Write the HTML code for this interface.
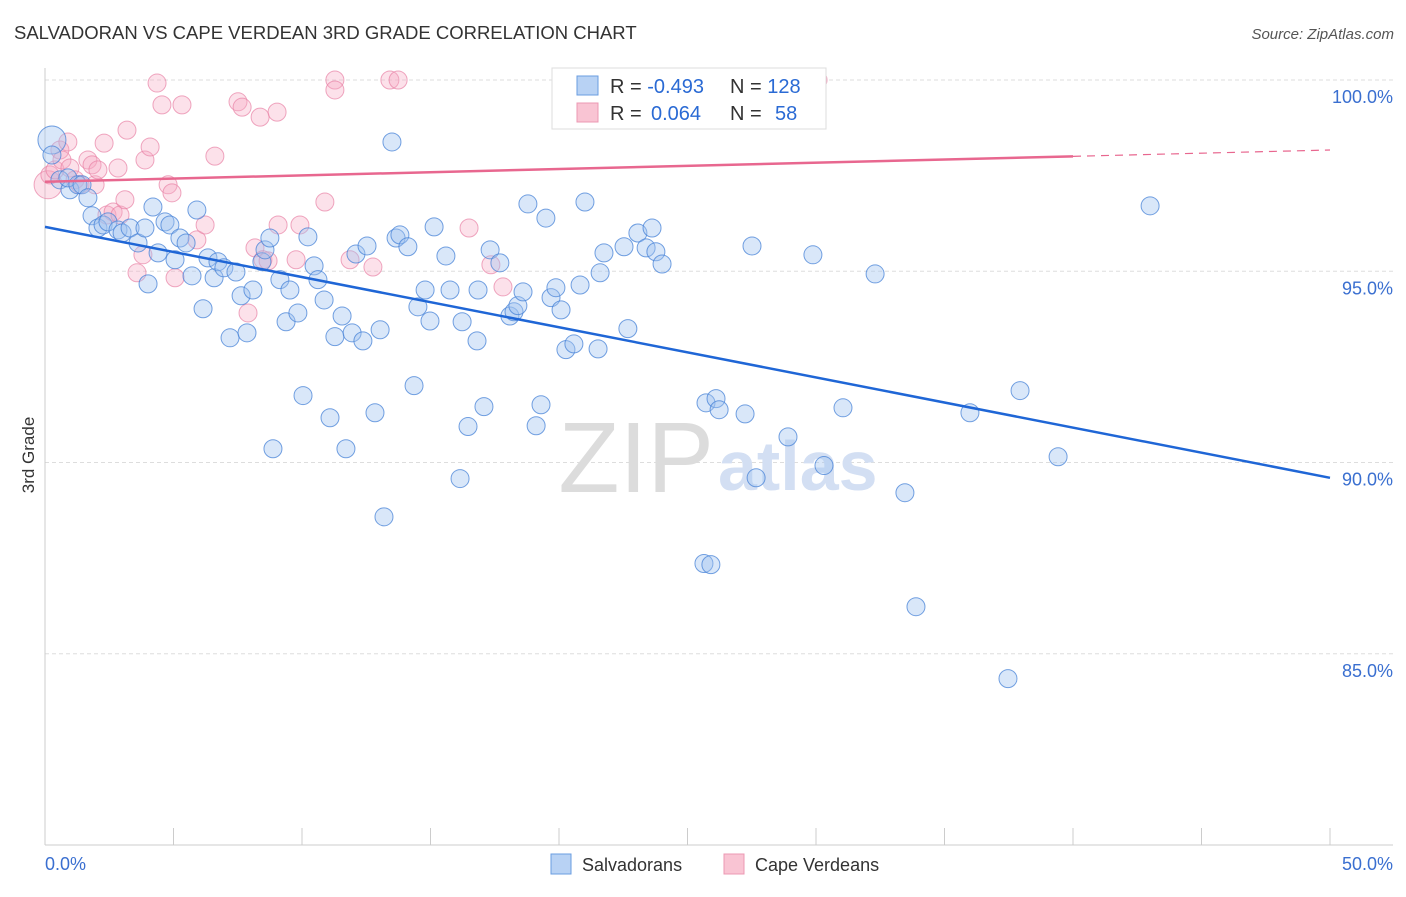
<!DOCTYPE html>
<html><head><meta charset="utf-8"><style>
body{margin:0;background:#fff;font-family:"Liberation Sans",sans-serif;}
svg text{font-family:"Liberation Sans",sans-serif;}
</style></head><body>
<svg id="chart" width="1406" height="892" xmlns="http://www.w3.org/2000/svg">
<text x="14" y="39" font-size="18.5" fill="#333">SALVADORAN VS CAPE VERDEAN 3RD GRADE CORRELATION CHART</text>
<text x="1394" y="39" font-size="15" fill="#555" font-style="italic" text-anchor="end">Source: ZipAtlas.com</text>
<g id="grid"></g>
<text x="714" y="492" font-size="100" fill="#dcdcdc" text-anchor="end" font-family="Liberation Serif">ZIP</text>
<text x="718" y="490" font-size="70" fill="#d3dff3" font-weight="bold">atlas</text>
<g id="marks"></g>
<text transform="translate(34,455) rotate(-90)" font-size="17" fill="#333" text-anchor="middle">3rd Grade</text>
<g>
<rect x="552" y="68" width="274" height="61" fill="#fff" stroke="#ddd"/>
<rect x="577" y="76" width="21" height="19" fill="#b8d2f4" stroke="#6a9de0"/>
<rect x="577" y="103" width="21" height="19" fill="#f9c4d3" stroke="#ec98b3"/>
<text x="610" y="93" font-size="20" fill="#333">R = <tspan fill="#2a6ad4">-0.493</tspan><tspan x="730">N = </tspan><tspan fill="#2a6ad4">128</tspan></text>
<text x="610" y="120" font-size="20" fill="#333">R = <tspan x="651" fill="#2a6ad4">0.064</tspan><tspan x="730">N = </tspan><tspan x="775" fill="#2a6ad4">58</tspan></text>
</g>
<g>
<rect x="551" y="854" width="20" height="20" fill="#b8d2f4" stroke="#6a9de0"/>
<text x="582" y="871" font-size="18" fill="#333">Salvadorans</text>
<rect x="724" y="854" width="20" height="20" fill="#f9c4d3" stroke="#ec98b3"/>
<text x="755" y="871" font-size="18" fill="#333">Cape Verdeans</text>
</g>
</svg>
<script>
const blueX=[.27,.27,.58,.97,.89,1.28,1.44,1.67,1.83,2.06,2.26,2.45,2.84,3.00,3.31,3.62,3.89,4.01,4.20,4.40,4.67,4.86,5.06,5.25,5.49,5.72,5.91,6.15,6.34,6.58,6.73,6.96,7.20,7.43,7.63,7.86,8.09,8.44,8.56,8.75,8.87,9.14,9.38,9.53,9.84,10.04,10.23,10.47,10.62,10.86,11.09,11.28,11.56,11.71,11.95,12.10,12.37,12.53,12.84,13.04,13.19,13.50,13.66,13.81,14.12,14.36,14.51,14.79,14.98,15.14,15.60,15.76,16.23,16.15,16.46,16.81,16.85,17.08,17.32,17.70,18.09,18.25,18.40,18.60,18.79,19.11,19.30,19.49,19.69,19.88,20.08,20.27,20.58,20.82,21.01,21.52,21.60,21.75,22.53,22.68,23.07,23.39,23.62,23.77,24.01,25.64,25.72,25.91,26.11,26.23,27.24,27.51,27.67,28.91,29.88,30.31,31.05,32.30,33.46,33.89,35.99,37.47,37.94,39.42,43.00,24.90];
const blueY=[98.43,98.04,97.39,97.13,97.44,97.26,97.26,96.92,96.45,96.13,96.21,96.29,96.08,96.00,96.13,95.74,96.13,94.67,96.68,95.48,96.29,96.21,95.30,95.87,95.74,94.88,96.60,94.02,95.35,94.83,95.25,95.09,93.26,94.98,94.36,93.39,94.51,95.25,95.56,95.87,90.36,94.78,93.68,94.51,93.91,91.75,95.90,95.14,94.78,94.25,91.17,93.29,93.83,90.36,93.39,95.45,93.18,95.66,91.30,93.47,88.58,98.38,95.87,95.95,95.64,92.01,94.07,94.51,93.70,96.16,95.40,94.51,93.68,89.58,90.94,93.18,94.51,91.46,95.56,95.22,93.83,93.94,94.10,94.46,96.76,90.96,91.51,96.39,94.31,94.57,93.99,92.95,93.10,94.64,96.81,92.97,94.96,95.48,95.64,93.50,96.00,95.61,96.13,95.51,95.19,87.36,91.56,87.33,91.67,91.38,91.27,95.66,89.60,90.67,95.43,89.92,91.43,94.93,89.21,86.23,91.30,84.35,91.88,90.15,96.71,100.0];
const pinkX=[.12,.19,.39,.58,.66,.89,.97,1.17,1.36,1.67,1.83,1.95,2.06,2.30,2.41,2.65,2.84,2.92,3.11,3.19,3.58,3.81,3.89,4.09,4.36,4.55,4.79,4.94,5.06,5.33,5.91,6.23,6.61,7.51,7.67,7.90,8.17,8.37,8.48,8.68,9.03,9.07,9.77,9.92,10.89,11.28,11.28,11.87,12.76,13.42,13.74,16.50,17.35,17.82,21.79,30.08];
const pinkY=[97.26,97.52,97.65,98.17,97.91,98.38,97.70,97.39,97.26,97.91,97.78,97.26,97.65,98.35,96.47,96.55,97.70,96.47,96.87,98.69,94.96,95.43,97.91,98.25,99.92,99.35,97.26,97.05,94.83,99.35,95.82,96.21,98.01,99.43,99.29,93.91,95.61,99.03,95.30,95.27,99.16,96.21,95.30,96.21,96.81,100,99.74,95.30,95.11,100,100,96.13,95.17,94.59,100,100];
const blueTrend=[96.16,89.60];
const pinkTrend=[97.34,98.17];
const yTicks=[100,95,90,85];
const yTickLabels=["100.0%","95.0%","90.0%","85.0%"];
const xTicks=[0,5,10,15,20,25,30,35,40,45,50];
const xTickLabels=["0.0%","50.0%"];

const NS="http://www.w3.org/2000/svg";
const X0=45,X1=1330,YT=80,YB=845;
const xs=v=>X0+(v/50)*(X1-X0);
const ys=v=>YT+(100-v)/20*(YB-YT);
function mk(tag,attrs,parent){const e=document.createElementNS(NS,tag);for(const k in attrs)e.setAttribute(k,attrs[k]);parent.appendChild(e);return e;}
const grid=document.getElementById('grid'),marks=document.getElementById('marks');
yTicks.forEach((t,i)=>{
  const l=mk('line',{x1:X0,x2:1393,y1:ys(t),y2:ys(t),stroke:'#ddd','stroke-dasharray':'4,3'},grid);
  
  
  const tx=mk('text',{x:1393,y:ys(t)+23,'font-size':18,fill:'#3a6fd0','text-anchor':'end'},grid);
  tx.textContent=yTickLabels[i];
  
  
});
const ax=mk('line',{x1:X0,x2:X0,y1:68,y2:YB,stroke:'#ccc'},grid);


const bx=mk('line',{x1:X0,x2:1393,y1:YB,y2:YB,stroke:'#ccc'},grid);


xTicks.forEach(t=>{
  const l=mk('line',{x1:xs(t),x2:xs(t),y1:828,y2:YB,stroke:'#ccc'},grid);
  
  
});
const xl0=mk('text',{x:45,y:870,'font-size':18,fill:'#3a6fd0'},grid);xl0.textContent=xTickLabels[0];


const xl1=mk('text',{x:1393,y:870,'font-size':18,fill:'#3a6fd0','text-anchor':'end'},grid);xl1.textContent=xTickLabels[1];



pinkX.forEach((v,i)=>{
  const c=mk('circle',{cx:xs(v),cy:ys(pinkY[i]),r:i===0?14:9,fill:'rgba(246,170,195,0.35)',stroke:'rgba(232,130,165,0.7)','stroke-width':1},marks);
  
  
});
blueX.forEach((v,i)=>{
  const c=mk('circle',{cx:xs(v),cy:ys(blueY[i]),r:i===0?14:9,fill:'rgba(160,195,240,0.4)',stroke:'rgba(70,130,215,0.75)','stroke-width':1},marks);
  
  
});
const bt=mk('line',{x1:xs(0),y1:ys(blueTrend[0]),x2:xs(50),y2:ys(blueTrend[1]),stroke:'#1f66d6','stroke-width':2.5},marks);


const pm=pinkTrend[0]+(pinkTrend[1]-pinkTrend[0])*0.8;
const pt=mk('line',{x1:xs(0),y1:ys(pinkTrend[0]),x2:xs(40),y2:ys(pm),stroke:'#e8678f','stroke-width':2.5},marks);


const pd=mk('line',{x1:xs(40),y1:ys(pm),x2:xs(50),y2:ys(pinkTrend[1]),stroke:'#e8678f','stroke-width':1.2,'stroke-dasharray':'8,6'},marks);


</script>
</body></html>
